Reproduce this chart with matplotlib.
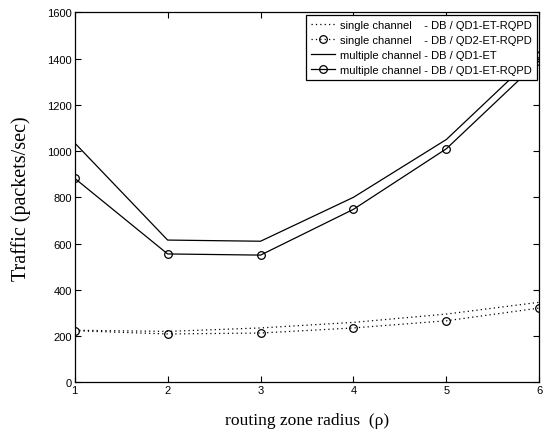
import matplotlib
matplotlib.use("Agg")
import matplotlib.pyplot as plt

radius = [1, 2, 3, 4, 5, 6]
single_qd1_et_rqpd = [225, 220, 235, 259, 295, 346]
single_qd2_et_rqpd = [223, 209, 213, 235, 266, 321]
multi_qd1_et = [1035, 615, 610, 800, 1050, 1430]
multi_qd1_et_rqpd = [882, 555, 550, 748, 1010, 1390]

labels = [
    "single channel    - DB / QD1-ET-RQPD",
    "single channel    - DB / QD2-ET-RQPD",
    "multiple channel - DB / QD1-ET",
    "multiple channel - DB / QD1-ET-RQPD",
]
xticks = [1, 2, 3, 4, 5, 6]
yticks = [0, 200, 400, 600, 800, 1000, 1200, 1400, 1600]

fig = plt.figure(figsize=(5.43, 4.35), dpi=100)
ax = fig.add_axes([0.1376, 0.1189, 0.9932 - 0.1376, 0.9694 - 0.1189])

ax.plot(radius, single_qd1_et_rqpd, color="black", linestyle=(0, (1, 2.5)), linewidth=0.9, label=labels[0])
ax.plot(radius, single_qd2_et_rqpd, color="black", linestyle=(0, (1, 2.5)), linewidth=0.9,
        marker="o", markersize=5.5, markerfacecolor="none", markeredgecolor="black",
        markeredgewidth=0.9, label=labels[1])
ax.plot(radius, multi_qd1_et, color="black", linestyle="-", linewidth=0.9, label=labels[2])
ax.plot(radius, multi_qd1_et_rqpd, color="black", linestyle="-", linewidth=0.9,
        marker="o", markersize=5.5, markerfacecolor="none", markeredgecolor="black",
        markeredgewidth=0.9, label=labels[3])

ax.set_xlim(1, 6)
ax.set_ylim(0, 1600)
ax.set_xticks(xticks)
ax.set_yticks(yticks)
ax.tick_params(direction="in", top=True, right=True, length=4, width=0.8,
               labelsize=8, pad=2)
for lab in ax.get_xticklabels() + ax.get_yticklabels():
    lab.set_fontfamily("Liberation Sans")
for sp in ax.spines.values():
    sp.set_linewidth(0.9)

ax.set_xlabel("routing zone radius  (\u03c1)", fontfamily="Liberation Serif", fontsize=12.6, labelpad=12)
ax.set_ylabel("Traffic (packets/sec)", fontfamily="Liberation Serif", fontsize=14.5, labelpad=12)

leg = ax.legend(loc="upper right", prop={"family": "Liberation Sans", "size": 8},
                frameon=True, fancybox=False, edgecolor="black", framealpha=1,
                borderaxespad=0.25, handlelength=2.2, handletextpad=0.4,
                labelspacing=0.45, borderpad=0.45)
leg.get_frame().set_linewidth(0.9)

fig.savefig("out.png", dpi=100)
